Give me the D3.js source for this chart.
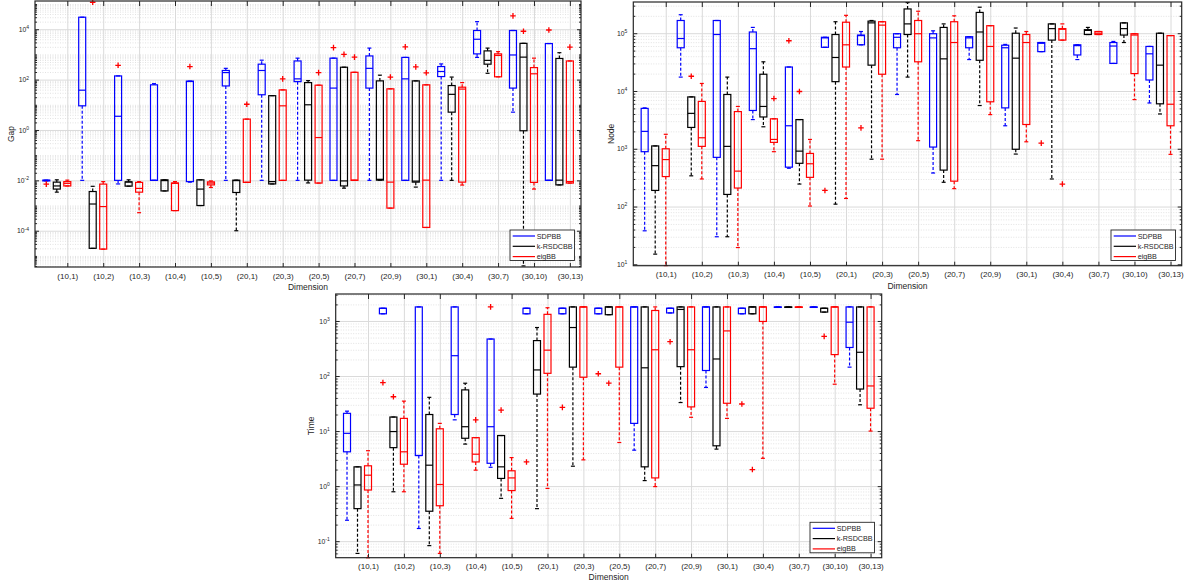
<!DOCTYPE html>
<html>
<head>
<meta charset="utf-8">
<script src="https://cdn.jsdelivr.net/npm/d3@7"></script>
<style>
  body { margin: 0; background: #fff; }
  svg { font-family: "Liberation Sans", Arial, sans-serif; }
</style>
</head>
<body>
<svg id="chart" width="1189" height="586"></svg>
<script>
// Box stats per category: [lower whisker, q1, median, q3, upper whisker]
// Outliers: [category index, value]
var categories = ["(10,1)", "(10,2)", "(10,3)", "(10,4)", "(10,5)", "(20,1)", "(20,3)", "(20,5)",
                  "(20,7)", "(20,9)", "(30,1)", "(30,4)", "(30,7)", "(30,10)", "(30,13)"];
var methods = ["SDPBB", "k-RSDCBB", "eigBB"];

var gapSDPBB = [
  [0.0095, 0.0095, 0.0100, 0.0102, 0.0102],
  [0.0100, 9.1, 38, 30000, 30000],
  [0.0072, 0.0100, 3.5, 140, 140],
  [0.0100, 0.0100, 0.0100, 62, 69],
  [0.0085, 0.0089, 84, 87, 87],
  [0.0100, 56, 190, 230, 280],
  [0.0100, 25, 230, 410, 590],
  [0.0100, 83, 107, 550, 710],
  [0.0100, 0.0100, 46, 710, 710],
  [0.0100, 46, 280, 870, 1780],
  [0.0100, 0.0100, 107, 760, 760],
  [0.0100, 132, 210, 330, 420],
  [760, 1050, 4000, 8900, 20000],
  [5.1, 46, 950, 8900, 8900],
  [0.0100, 0.0100, 0.0100, 2700, 2700]
];
var gapSDPBBOut = [[0, 0.0071], [2, 370], [4, 330], [8, 1860], [10, 2000], [13, 34000], [14, 9300]];

var gapKRSDCBB = [
  [0.0034, 0.0045, 0.0060, 0.0085, 0.0105],
  [0.00002, 0.00002, 0.00115, 0.0036, 0.0058],
  [0.0059, 0.0059, 0.0086, 0.0087, 0.0105],
  [0.0038, 0.0038, 0.0098, 0.0105, 0.0105],
  [0.0010, 0.0010, 0.0045, 0.0105, 0.0105],
  [0.0001, 0.0033, 0.0098, 0.0102, 0.0102],
  [0.0072, 0.0072, 0.0089, 23, 23],
  [0.0079, 0.0102, 10, 76, 91],
  [0.0049, 0.0060, 0.0095, 310, 310],
  [0.0102, 0.0102, 0.0110, 89, 150],
  [0.0054, 0.0085, 0.0093, 89, 89],
  [0.0100, 5.1, 26, 58, 126],
  [178, 410, 580, 1380, 1780],
  [0.000004, 0.93, 780, 2750, 2750],
  [0.0066, 0.0066, 0.0102, 690, 1170]
];
var gapKRSDCBBOut = [[1, 118000], [8, 1000], [10, 320], [13, 8300]];

var gapEigBB = [
  [0.0060, 0.0060, 0.0076, 0.0089, 0.0102],
  [0.0000186, 0.0000186, 0.00091, 0.0071, 0.0089],
  [0.00052, 0.0034, 0.0048, 0.0083, 0.0089],
  [0.00063, 0.00063, 0.0076, 0.0079, 0.0089],
  [0.0052, 0.0066, 0.0078, 0.0087, 0.0095],
  [0.0083, 0.0083, 0.0083, 2.7, 2.7],
  [0.0100, 0.0100, 9.1, 39, 39],
  [0.0078, 0.0078, 0.50, 60, 60],
  [0.0100, 0.0100, 0.0102, 195, 195],
  [0.00079, 0.00079, 0.0085, 43, 43],
  [0.000135, 0.000135, 0.0102, 62, 62],
  [0.0065, 0.0085, 42, 50, 76],
  [129, 129, 910, 1050, 1290],
  [0.0045, 0.0083, 170, 300, 710],
  [0.0078, 0.0078, 0.0089, 550, 550]
];
var gapEigBBOut = [[5, 10.5], [6, 107], [7, 190], [8, 780], [9, 126], [10, 186], [14, 1950]];

var nodeSDPBB = [
  [38, 890, 2000, 5000, 5100],
  [17400, 56000, 81000, 166000, 209000],
  [30, 710, 95000, 166000, 166000],
  [3200, 4600, 54000, 105000, 126000],
  [460, 480, 2500, 26000, 26000],
  [57000, 57000, 83000, 85000, 85000],
  [63000, 63000, 91000, 93000, 107000],
  [8700, 56000, 85000, 98000, 98000],
  [380, 1070, 83000, 98000, 110000],
  [35000, 56000, 83000, 87000, 87000],
  [2500, 5100, 56000, 62000, 64000],
  [48000, 48000, 67000, 69000, 69000],
  [35000, 42000, 61000, 63000, 63000],
  [30000, 30000, 60000, 69000, 72000],
  [6200, 15500, 44000, 59000, 59000]
];
var nodeSDPBBOut = [[4, 74000], [5, 190], [6, 2300], [11, 1250]];

var nodeKRSDCBB = [
  [15, 190, 510, 1120, 1120],
  [340, 2340, 4100, 7900, 7900],
  [30, 162, 1100, 8700, 17400],
  [2400, 3550, 5400, 19500, 32000],
  [245, 560, 910, 3200, 3200],
  [110, 14500, 38000, 95000, 158000],
  [660, 28000, 151000, 162000, 166000],
  [17400, 95000, 145000, 263000, 339000],
  [263, 427, 36000, 126000, 145000],
  [5600, 34000, 105000, 229000, 282000],
  [810, 980, 37000, 100000, 123000],
  [300, 76000, 120000, 145000, 145000],
  [95000, 95000, 112000, 115000, 126000],
  [69000, 93000, 120000, 151000, 151000],
  [4000, 6000, 28000, 100000, 100000]
];
var nodeKRSDCBBOut = [[1, 18000], [4, 9800]];

var nodeEigBB = [
  [9.5, 330, 650, 1000, 1780],
  [300, 1100, 1550, 6600, 13500],
  [19.5, 209, 410, 4400, 5400],
  [890, 1290, 1450, 3300, 3300],
  [102, 320, 550, 830, 1450],
  [138, 26000, 63000, 155000, 204000],
  [660, 19500, 138000, 158000, 158000],
  [1380, 32000, 98000, 166000, 240000],
  [204, 275, 69000, 158000, 200000],
  [3900, 6500, 59000, 135000, 135000],
  [1320, 2630, 69000, 95000, 107000],
  [76000, 76000, 117000, 120000, 145000],
  [95000, 95000, 100000, 107000, 107000],
  [7100, 20000, 93000, 98000, 98000],
  [800, 2500, 5900, 91000, 91000]
];
var nodeEigBBOut = [[3, 7400], [11, 245]];

var timeSDPBB = [
  [0.24, 4.2, 9.1, 21, 23],
  [1350, 1350, 1700, 1700, 1700],
  [0.17, 3.6, 3.6, 1800, 1800],
  [16, 20, 234, 1800, 1800],
  [2.2, 2.6, 12, 470, 470],
  [1350, 1350, 1700, 1700, 1700],
  [1350, 1350, 1700, 1700, 1700],
  [1350, 1350, 1700, 1700, 1700],
  [4.5, 13.8, 1800, 1800, 1800],
  [1400, 1400, 1700, 1700, 1700],
  [62, 126, 1800, 1800, 1800],
  [1350, 1350, 1700, 1700, 1700],
  [1780, 1780, 1790, 1800, 1800],
  [1780, 1780, 1790, 1800, 1800],
  [145, 330, 950, 1800, 1800]
];
var timeSDPBBOut = [[1, 76], [4, 1800], [5, 2.75], [6, 27], [7, 110], [9, 420], [11, 31]];

var timeKRSDCBB = [
  [0.06, 0.39, 1.05, 2.24, 2.24],
  [0.79, 5.0, 9.8, 18, 18],
  [0.083, 0.35, 2.4, 20, 41],
  [5.8, 7.4, 12, 56, 74],
  [0.6, 1.38, 2.24, 8.3, 8.3],
  [0.39, 47, 129, 440, 760],
  [2.3, 145, 760, 1800, 1800],
  [1300, 1300, 1800, 1800, 1800],
  [1.26, 2.24, 141, 1800, 1800],
  [33, 148, 1620, 1800, 1800],
  [4.7, 5.4, 204, 1800, 1800],
  [1350, 1350, 1800, 1800, 1800],
  [1780, 1780, 1790, 1800, 1800],
  [1450, 1450, 1700, 1700, 1700],
  [30, 58, 270, 1800, 1800]
];
var timeKRSDCBBOut = [[1, 42], [4, 24], [7, 74], [11, 2.0], [13, 525]];

var timeEigBB = [
  [0.05, 0.85, 1.58, 2.34, 4.4],
  [0.79, 2.5, 4.2, 17, 35],
  [0.06, 0.44, 1.07, 11, 13.8],
  [1.95, 2.75, 3.8, 7.6, 7.6],
  [0.26, 0.83, 1.41, 1.9, 3.3],
  [0.91, 112, 295, 1320, 1740],
  [3.0, 95, 1800, 1800, 1800],
  [6.2, 145, 1800, 1800, 1800],
  [0.98, 1.41, 300, 1550, 1800],
  [17.8, 27.5, 300, 1800, 1800],
  [17, 32, 660, 1800, 1800],
  [3.2, 980, 1800, 1800, 1800],
  [1780, 1780, 1790, 1800, 1800],
  [71, 245, 1800, 1800, 1800],
  [10, 26, 66, 1800, 1800]
];
var timeEigBBOut = [[3, 16]];

var gapTicks = [1e-4, 1e-2, 1, 1e2, 1e4];
var nodeTicks = [1e1, 1e2, 1e3, 1e4, 1e5];
var timeTicks = [1e-1, 1, 1e1, 1e2, 1e3];

// ---- drawing ----
var colors = ["#0000ff", "#000000", "#ff0000"];
var offsets = [-0.585, -0.2925, 0];   // position of each method relative to its category tick
var axisColor = "#262626";
var boxHalf = 3.5, capHalf = 2, plusHalf = 2.8;

var svg = d3.select("#chart");

function drawPanel(p) {
  var g = svg.append("g");
  var w = p.right - p.left, h = p.bottom - p.top;
  var x = d3.scaleLinear().domain([-0.9, 14.31]).range([p.left, p.right]);
  var y = d3.scaleLog().domain([p.yMin, p.yMax]).range([p.bottom, p.top]);

  // minor log ticks (everything that is not a labelled tick)
  var minor = [];
  for (var k = Math.floor(Math.log10(p.yMin)); k <= Math.ceil(Math.log10(p.yMax)); k++) {
    for (var m = 1; m < 10; m++) {
      var v = m * Math.pow(10, k);
      var isMajor = p.ticks.some(function (t) { return Math.abs(t - v) / v < 1e-9; });
      if (v > p.yMin && v < p.yMax && !isMajor) minor.push(v);
    }
  }

  // grid
  g.append("g").attr("transform", "translate(" + p.left + ",0)")
    .call(d3.axisLeft(y).tickValues(minor).tickSize(-w).tickFormat(""))
    .call(function (s) {
      s.select(".domain").remove();
      s.selectAll("line").attr("stroke", "#e2e2e2").attr("stroke-dasharray", "1,1.5");
    });
  g.append("g").attr("transform", "translate(" + p.left + ",0)")
    .call(d3.axisLeft(y).tickValues(p.ticks).tickSize(-w).tickFormat(""))
    .call(function (s) {
      s.select(".domain").remove();
      s.selectAll("line").attr("stroke", "#dadada");
    });
  g.append("g").attr("transform", "translate(0," + p.bottom + ")")
    .call(d3.axisBottom(x).tickValues(d3.range(categories.length)).tickSize(-h).tickFormat(""))
    .call(function (s) {
      s.select(".domain").remove();
      s.selectAll("line").attr("stroke", "#dadada");
    });

  // boxes
  p.series.forEach(function (stats, mi) {
    var color = colors[mi];
    var bg = g.append("g").attr("stroke", color).attr("fill", "none").attr("stroke-width", 1.2);
    stats.forEach(function (s, ci) {
      var cx = x(ci + offsets[mi]);
      var lo = y(s[0]), q1 = y(s[1]), med = y(s[2]), q3 = y(s[3]), hi = y(s[4]);
      bg.append("line").attr("x1", cx).attr("x2", cx).attr("y1", q3).attr("y2", hi)
        .attr("stroke-dasharray", "3,2");
      bg.append("line").attr("x1", cx).attr("x2", cx).attr("y1", q1).attr("y2", lo)
        .attr("stroke-dasharray", "3,2");
      bg.append("line").attr("x1", cx - capHalf).attr("x2", cx + capHalf).attr("y1", hi).attr("y2", hi);
      bg.append("line").attr("x1", cx - capHalf).attr("x2", cx + capHalf).attr("y1", lo).attr("y2", lo);
      bg.append("rect").attr("x", cx - boxHalf).attr("width", boxHalf * 2)
        .attr("y", q3).attr("height", Math.max(q1 - q3, 0.5));
      bg.append("line").attr("x1", cx - boxHalf).attr("x2", cx + boxHalf).attr("y1", med).attr("y2", med);
    });
    // outliers: red plus signs
    g.append("g").selectAll("path").data(p.outliers[mi]).join("path")
      .attr("d", function (d) {
        var px = x(d[0] + offsets[mi]), py = y(d[1]);
        return "M" + (px - plusHalf) + "," + py + "H" + (px + plusHalf) +
               "M" + px + "," + (py - plusHalf) + "V" + (py + plusHalf);
      })
      .attr("stroke", "#ff0000").attr("stroke-width", 1.3).attr("fill", "none");
  });

  // axes (ticks inward on all four sides)
  function styleAxis(s) {
    s.select(".domain").remove();
    s.selectAll("line").attr("stroke", axisColor);
    s.selectAll("text").attr("fill", axisColor);
  }
  g.append("g").attr("transform", "translate(" + p.left + ",0)")
    .call(d3.axisLeft(y).tickValues(minor).tickSizeInner(-2).tickSizeOuter(0).tickFormat(""))
    .call(styleAxis);
  g.append("g").attr("transform", "translate(" + p.right + ",0)")
    .call(d3.axisRight(y).tickValues(minor).tickSizeInner(-2).tickSizeOuter(0).tickFormat(""))
    .call(styleAxis);
  g.append("g").attr("transform", "translate(" + p.right + ",0)")
    .call(d3.axisRight(y).tickValues(p.ticks).tickSizeInner(-4).tickSizeOuter(0).tickFormat(""))
    .call(styleAxis);
  g.append("g").attr("transform", "translate(" + p.left + ",0)")
    .call(d3.axisLeft(y).tickValues(p.ticks).tickSizeInner(-4).tickSizeOuter(0).tickPadding(6))
    .call(styleAxis)
    .call(function (s) {
      s.selectAll("text").attr("font-size", "6.8px").each(function (d) {
        var t = d3.select(this);
        t.text("10");
        t.append("tspan").attr("dy", "-0.55em").attr("font-size", "5px")
          .text(String(Math.round(Math.log10(d))));
      });
    });
  g.append("g").attr("transform", "translate(0," + p.bottom + ")")
    .call(d3.axisBottom(x).tickValues(d3.range(categories.length)).tickSizeInner(-4).tickSizeOuter(0)
      .tickPadding(6).tickFormat(function (i) { return categories[i]; }))
    .call(styleAxis)
    .call(function (s) { s.selectAll("text").attr("font-size", "8px"); });
  g.append("g").attr("transform", "translate(0," + p.top + ")")
    .call(d3.axisTop(x).tickValues(d3.range(categories.length)).tickSizeInner(-5).tickSizeOuter(0).tickFormat(""))
    .call(styleAxis);

  g.append("rect").attr("x", p.left).attr("y", p.top).attr("width", w).attr("height", h)
    .attr("fill", "none").attr("stroke", axisColor).attr("stroke-width", 1.2);

  // axis labels
  g.append("text").attr("x", (p.left + p.right) / 2).attr("y", p.xLabelY)
    .attr("text-anchor", "middle").attr("font-size", "8.5px").attr("fill", axisColor).text("Dimension");
  g.append("text").attr("transform", "translate(" + p.yLabelX + "," + (p.top + p.bottom) / 2 + ") rotate(-90)")
    .attr("text-anchor", "middle").attr("font-size", "8.5px").attr("fill", axisColor).text(p.label);

  // legend
  var lg = g.append("g").attr("transform", "translate(" + p.legend[0] + "," + p.legend[1] + ")");
  lg.append("rect").attr("width", 64.5).attr("height", 30.5)
    .attr("fill", "#fff").attr("stroke", axisColor).attr("stroke-width", 0.9);
  methods.forEach(function (name, i) {
    var ly = 6 + i * 10.3;
    lg.append("line").attr("x1", 2.7).attr("x2", 25).attr("y1", ly).attr("y2", ly)
      .attr("stroke", colors[i]).attr("stroke-width", 1.2);
    lg.append("text").attr("x", 26.7).attr("y", ly).attr("dy", "0.35em")
      .attr("font-size", "7.2px").attr("fill", axisColor).text(name);
  });
}

drawPanel({
  left: 35, right: 581, top: 1, bottom: 267, yMin: 3.63e-6, yMax: 1.32e5,
  ticks: gapTicks, label: "Gap", yLabelX: 14, xLabelY: 290, legend: [510, 230],
  series: [gapSDPBB, gapKRSDCBB, gapEigBB],
  outliers: [gapSDPBBOut, gapKRSDCBBOut, gapEigBBOut]
});
drawPanel({
  left: 633.3, right: 1181.7, top: 2, bottom: 265.7, yMin: 9.46, yMax: 3.47e5,
  ticks: nodeTicks, label: "Node", yLabelX: 614, xLabelY: 289, legend: [1111, 230],
  series: [nodeSDPBB, nodeKRSDCBB, nodeEigBB],
  outliers: [nodeSDPBBOut, nodeKRSDCBBOut, nodeEigBBOut]
});
drawPanel({
  left: 335.7, right: 881.7, top: 294, bottom: 557.7, yMin: 0.0501, yMax: 3090,
  ticks: timeTicks, label: "Time", yLabelX: 314, xLabelY: 580, legend: [810, 522.3],
  series: [timeSDPBB, timeKRSDCBB, timeEigBB],
  outliers: [timeSDPBBOut, timeKRSDCBBOut, timeEigBBOut]
});
</script>
</body>
</html>
